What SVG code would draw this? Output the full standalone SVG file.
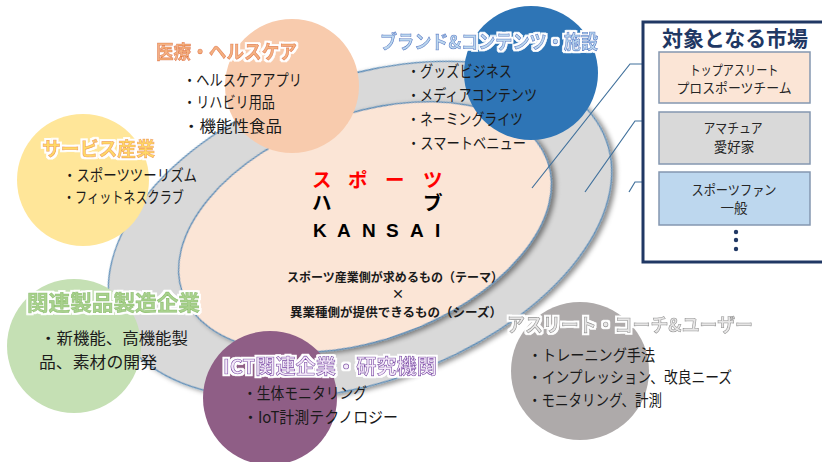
<svg xmlns="http://www.w3.org/2000/svg" width="822" height="462" viewBox="0 0 822 462">
<defs>
<style>
.jp{font-family:"Noto Sans CJK JP","Noto Sans",sans-serif}
.it{font-family:"Noto Sans CJK JP","Noto Sans",sans-serif;font-size:15.5px;fill:#1a1a1a}
.tt{font-family:"Noto Sans CJK JP","Noto Sans",sans-serif;font-size:19px;font-weight:700;stroke-width:0.6px;filter:url(#glow)}
.bx{font-family:"Noto Sans CJK JP","Noto Sans",sans-serif;font-size:13.5px;fill:#262626;text-anchor:middle}
.ctr{font-family:"Noto Sans CJK JP","Noto Sans",sans-serif;font-size:12.5px;font-weight:700;fill:#1a1a1a}
.hub{font-family:"Noto Sans CJK JP","Noto Sans",sans-serif;font-size:19.5px;font-weight:700}
.conn{fill:none;stroke:#41719C;stroke-width:1.2}
.mk{stroke:#8497B0;stroke-width:1.5}
</style>
<filter id="glow" x="-10%" y="-30%" width="120%" height="160%">
<feMorphology in="SourceAlpha" operator="dilate" radius="1.5" result="d"/>
<feFlood flood-color="#ffffff"/>
<feComposite in2="d" operator="in" result="w"/>
<feMerge><feMergeNode in="w"/><feMergeNode in="SourceGraphic"/></feMerge>
</filter>
<filter id="shadow" x="-10%" y="-10%" width="125%" height="125%">
<feDropShadow dx="3" dy="3" stdDeviation="2.5" flood-color="#000" flood-opacity="0.45"/>
</filter>
</defs>
<rect width="822" height="462" fill="#ffffff"/>

<g id="outer-ellipse">
<ellipse cx="360" cy="230" rx="262" ry="152" transform="rotate(-20 360 230)" fill="#D9D9D9" stroke="#5B8DB8" stroke-width="1.3" filter="url(#shadow)"/>
</g>
<g id="inner-ellipse">
<ellipse cx="365" cy="227" rx="194" ry="113" transform="rotate(-20 365 227)" fill="#FBE5D6" stroke="#5B8DB8" stroke-width="1.3" filter="url(#shadow)"/>
</g>

<g id="connectors">
<polyline class="conn" points="532,188 630,64 648,64"/>
<polyline class="conn" points="585,192 635,121 648,121"/>
<polyline class="conn" points="629,192 635,182 648,182"/>
</g>

<g id="medical">
<circle cx="292" cy="86" r="67" fill="#F8CBAD"/>
<text class="tt" x="156" y="59" textLength="141" lengthAdjust="spacingAndGlyphs" fill="#F4B183" stroke="#E2793A">医療・ヘルスケア</text>
<text class="it" x="183" y="86" textLength="119" lengthAdjust="spacingAndGlyphs">・ヘルスケアアプリ</text>
<text class="it" x="183" y="108" textLength="92" lengthAdjust="spacingAndGlyphs">・リハビリ用品</text>
<text class="it" x="183" y="132" textLength="99" lengthAdjust="spacingAndGlyphs">・機能性食品</text>
</g>

<g id="service">
<circle cx="83" cy="180" r="66" fill="#FFE699"/>
<text class="tt" x="42" y="156" textLength="113" lengthAdjust="spacingAndGlyphs" fill="#FFD966" stroke="#F0A050">サービス産業</text>
<text class="it" x="63" y="181" textLength="134" lengthAdjust="spacingAndGlyphs">・スポーツツーリズム</text>
<text class="it" x="63" y="203" textLength="121" lengthAdjust="spacingAndGlyphs">・フィットネスクラブ</text>
</g>

<g id="brand">
<circle cx="531" cy="73" r="67" fill="#2E75B6"/>
<text class="tt" x="380" y="49" textLength="218" lengthAdjust="spacingAndGlyphs" fill="#BDD7EE" stroke="#4472C4">ブランド&amp;コンテンツ・施設</text>
<text class="it" x="407" y="77" textLength="105" lengthAdjust="spacingAndGlyphs">・グッズビジネス</text>
<text class="it" x="407" y="101" textLength="130" lengthAdjust="spacingAndGlyphs">・メディアコンテンツ</text>
<text class="it" x="407" y="124.5" textLength="116" lengthAdjust="spacingAndGlyphs">・ネーミングライツ</text>
<text class="it" x="407" y="148.5" textLength="119" lengthAdjust="spacingAndGlyphs">・スマートベニュー</text>
</g>

<g id="manufacturing">
<circle cx="74" cy="346" r="67" fill="#C5E0B4"/>
<text class="tt" x="27" y="310" textLength="173" lengthAdjust="spacingAndGlyphs" style="font-size:21px" fill="#A9D18E" stroke="#8CC06A">関連製品製造企業</text>
<text class="it" x="40" y="344" textLength="148" lengthAdjust="spacingAndGlyphs">・新機能、高機能製</text>
<text class="it" x="39" y="368" textLength="118" lengthAdjust="spacingAndGlyphs">品、素材の開発</text>
</g>

<g id="ict">
<circle cx="270" cy="398" r="67" fill="#8F5E86"/>
<text class="tt" x="223" y="374" textLength="214" lengthAdjust="spacingAndGlyphs" style="font-size:20px" fill="#F3E9F8" stroke="#7030A0">ICT関連企業・研究機関</text>
<text class="it" x="243" y="399" textLength="124" lengthAdjust="spacingAndGlyphs">・生体モニタリング</text>
<text class="it" x="243" y="423" textLength="155" lengthAdjust="spacingAndGlyphs">・IoT計測テクノロジー</text>
</g>

<g id="athlete">
<circle cx="580" cy="371" r="69" fill="#AEAAAA"/>
<text class="tt" x="507" y="332" textLength="246" lengthAdjust="spacingAndGlyphs" fill="#E7E6E6" stroke="#8C8C8C">アスリート・コーチ&amp;ユーザー</text>
<text class="it" x="528" y="361" textLength="127" lengthAdjust="spacingAndGlyphs">・トレーニング手法</text>
<text class="it" x="528" y="383" textLength="204" lengthAdjust="spacingAndGlyphs">・インプレッション、改良ニーズ</text>
<text class="it" x="528" y="406" textLength="134" lengthAdjust="spacingAndGlyphs">・モニタリング、計測</text>
</g>

<g id="hub">
<text class="hub" x="312 348 385 423" y="187" fill="#FF0000">スポーツ</text>
<text class="hub" x="312 423" y="210" fill="#000000">ハブ</text>
<text x="313 337 362 386 410 435" y="237" fill="#000000" style="font-family:'Liberation Sans',Arial,sans-serif;font-size:19px;font-weight:700">KANSAI</text>
<text class="ctr" x="287" y="282" textLength="216" lengthAdjust="spacingAndGlyphs">スポーツ産業側が求めるもの（テーマ）</text>
<text class="ctr" x="398" y="299" text-anchor="middle">×</text>
<text class="ctr" x="290" y="317" textLength="212" lengthAdjust="spacingAndGlyphs">異業種側が提供できるもの（シーズ）</text>
</g>

<g id="market">
<rect x="643" y="22" width="200" height="240" fill="#ffffff" stroke="#203864" stroke-width="3"/>
<text class="jp" x="662" y="46" textLength="146" lengthAdjust="spacingAndGlyphs" style="font-size:21px;font-weight:700" fill="#1F3864">対象となる市場</text>
</g>
<g id="market-top">
<rect class="mk" x="659" y="52" width="151" height="51" fill="#FBE5D6"/>
<text class="bx" x="734" y="75" textLength="89" lengthAdjust="spacingAndGlyphs">トップアスリート</text>
<text class="bx" x="734" y="93" textLength="115" lengthAdjust="spacingAndGlyphs">プロスポーツチーム</text>
</g>
<g id="market-amateur">
<rect class="mk" x="659" y="112" width="151" height="52" fill="#D9D9D9"/>
<text class="bx" x="733" y="133" textLength="59" lengthAdjust="spacingAndGlyphs">アマチュア</text>
<text class="bx" x="734" y="152">愛好家</text>
</g>
<g id="market-fan">
<rect class="mk" x="659" y="172" width="151" height="53" fill="#BDD7EE"/>
<text class="bx" x="734" y="195" textLength="85" lengthAdjust="spacingAndGlyphs">スポーツファン</text>
<text class="bx" x="734" y="213">一般</text>
</g>
<g id="market-more" fill="#203864">
<circle cx="736" cy="232" r="2.2"/>
<circle cx="736" cy="240" r="2.2"/>
<circle cx="736" cy="249" r="2.2"/>
</g>
</svg>
